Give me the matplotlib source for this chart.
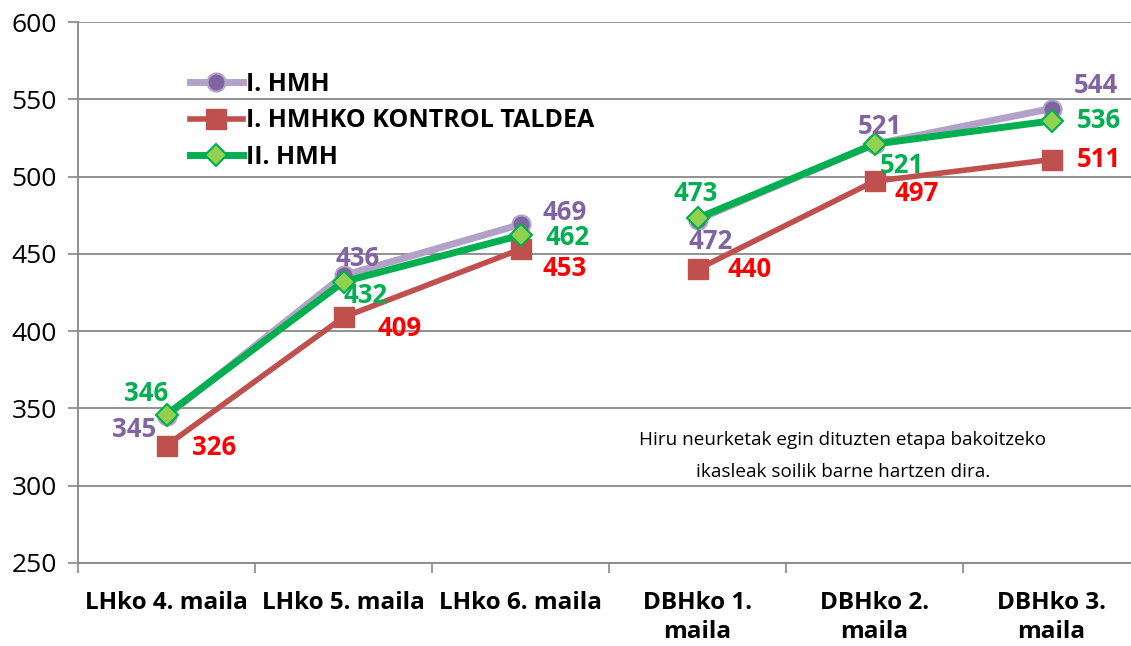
import numpy as np
import matplotlib
matplotlib.use('Agg')
import matplotlib.pyplot as plt

plt.rcParams['font.family'] = ['Open Sans', 'DejaVu Sans']

categories = ['LHko 4. maila', 'LHko 5. maila', 'LHko 6. maila',
              'DBHko 1.\nmaila', 'DBHko 2.\nmaila', 'DBHko 3.\nmaila']
hmh1 = [345, 436, 469, 472, 521, 544]
kontrol = [326, 409, 453, 440, 497, 511]
hmh2 = [346, 432, 462, 473, 521, 536]
names = ['I. HMH', 'I. HMHKO KONTROL TALDEA', 'II. HMH']

# label offsets in pixels (dx, dy) per point
off_hmh1 = [(-32, -13), (14, 17), (44, 12), (13, -22), (5, 18), (44, 23)]
off_kontrol = [(48, -2), (56, -11), (44, -19), (52, 0), (42, -12), (47, 0)]
off_hmh2 = [(-20, 21), (22, -14), (47, -2), (-2, 25), (27, -21), (47, 0)]

fig = plt.figure(figsize=(11.31, 6.46), dpi=100)
ax = fig.add_axes([78/1131, 1-563/646, 1062/1131, (563-22)/646])

x = np.arange(len(categories))
styles = [
    dict(color='#B3A2C7', lw=5, marker='o', ms=13, mfc='#8064A2', mec='#B3A2C7', mew=1.5),
    dict(color='#C0504D', lw=4, marker='s', ms=14, mfc='#C0504D', mec='#C0504D'),
    dict(color='#00B050', lw=5, marker='D', ms=11, mfc='#92D050', mec='#00B050', mew=1.5),
]
series = [hmh1, kontrol, hmh2]
txtcol = ['#8064A2', '#FF0000', '#00B050']
offs = [off_hmh1, off_kontrol, off_hmh2]

for s, st, name in zip(series, styles, names):
    ax.plot(x[:3], s[:3], label=name, zorder=3, **st)
    ax.plot(x[3:], s[3:], zorder=3, **st)

for s, col, off in zip(series, txtcol, offs):
    for i, v in enumerate(s):
        ax.annotate(str(v), (x[i], v), xytext=off[i], textcoords='offset pixels',
                    ha='center', va='center', fontsize=18.5, fontweight='bold',
                    color=col, zorder=5)

ax.set_ylim(250, 600)
ax.set_xlim(-0.5, 5.5)
ax.set_yticks(np.arange(250, 601, 50))
ax.tick_params(axis='y', labelsize=19, length=7, color='#888888', width=1.2, pad=8)
ax.set_xticks(x)
ax.set_xticklabels(categories, fontsize=17.5, fontweight='bold', linespacing=1.3)
ax.tick_params(axis='x', length=0, pad=20)
ax.set_xticks(np.arange(-0.5, 5.6, 1), minor=True)
ax.tick_params(axis='x', which='minor', length=7, color='#888888', width=1.2)
ax.grid(axis='y', color='#888888', lw=1.3)
ax.set_axisbelow(True)
for sp in ['top', 'right']:
    ax.spines[sp].set_visible(False)
for sp in ['left', 'bottom']:
    ax.spines[sp].set_color('#888888')
    ax.spines[sp].set_linewidth(1.3)

ax.text(0.72, 0.198, 'Hiru neurketak egin dituzten etapa bakoitzeko\nikasleak soilik barne hartzen dira.',
        transform=ax.transAxes, ha='center', va='center', fontsize=13.6, linespacing=2.0)

leg = ax.legend(loc='upper left', bbox_to_anchor=(180/1131, 1-62/646), bbox_transform=fig.transFigure,
                frameon=False, prop={'weight': 'bold', 'size': 18}, handlelength=2.1,
                handletextpad=0.15, labelspacing=0.45, borderaxespad=0)

fig.savefig('out.png', dpi=100)
